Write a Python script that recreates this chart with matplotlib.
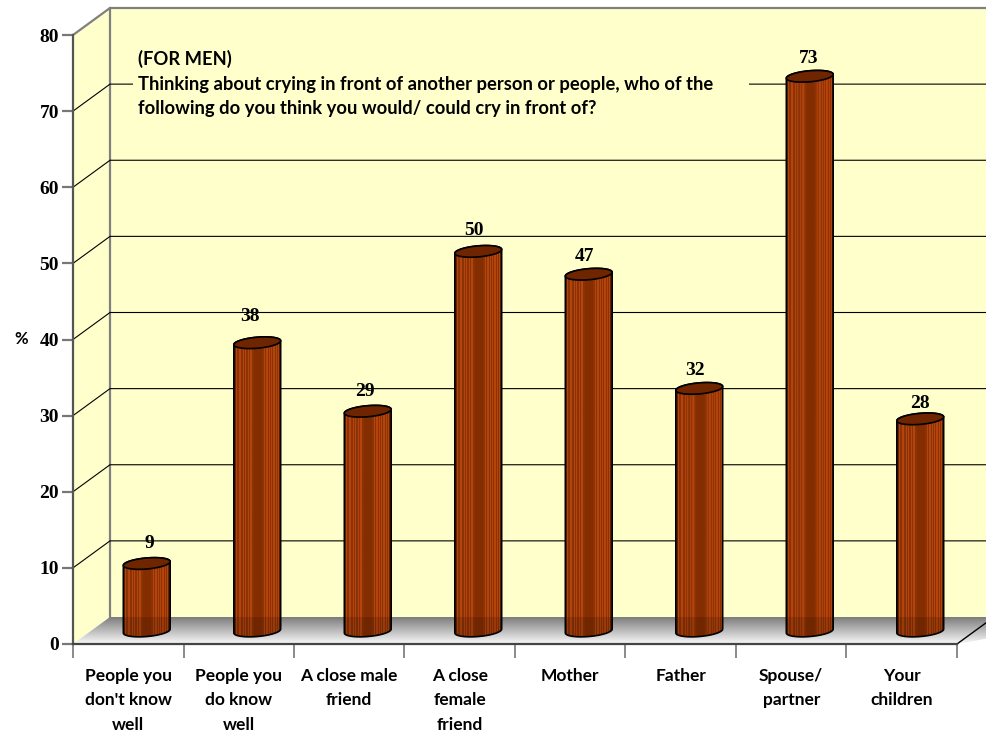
import matplotlib
matplotlib.use('Agg')
import matplotlib.pyplot as plt
from matplotlib.patches import Polygon
import numpy as np

# values
categories = ["People you\ndon't know\nwell", "People you\ndo know\nwell", "A close male\nfriend",
              "A close\nfemale\nfriend", "Mother", "Father", "Spouse/\npartner", "Your\nchildren"]
values = [9, 38, 29, 50, 47, 32, 73, 28]
y_ticks = [0, 10, 20, 30, 40, 50, 60, 70, 80]
title_text = ("(FOR MEN)\nThinking about crying in front of another person or people, who of the\n"
              "following do you think you would/ could cry in front of?")

# small shifts for the value labels, in pixels
label_nudge = [(3, 2), (-7, -4), (-3, 2), (-4, 1), (-4, 4), (-4, 4), (-1, 4), (0, 7)]

W, H = 987, 731
LABEL_FONT = 'Lato'
DIGIT_FONT = 'Liberation Serif'

fig = plt.figure(figsize=(W / 100, H / 100), dpi=100, facecolor='white')
left, right, top, bottom = 73, 957, 35, 644
ax = fig.add_axes([left / W, 1 - bottom / H, (right - left) / W, (bottom - top) / H])
ax.set_facecolor('none')

# pixels to data units
ux = 8 / (right - left)
uy = 80 / (bottom - top)
depth_x, depth_y = 37 * ux, 27 * uy
far = 8 + depth_x + 1


def poly(pts, **kw):
    p = Polygon(pts, closed=True, clip_on=False, **kw)
    ax.add_patch(p)
    return p


def image(arr, extent, clip, **kw):
    im = ax.imshow(arr, extent=extent, aspect='auto', clip_on=True, **kw)
    im.set_clip_box(fig.bbox)
    im.set_clip_path(clip)
    return im


# walls
wall = '#ffffcc'
poly([(depth_x, depth_y), (far, depth_y), (far, 80 + depth_y), (depth_x, 80 + depth_y)],
     fc=wall, ec='none', zorder=1)
poly([(0, 0), (depth_x, depth_y), (depth_x, 80 + depth_y), (0, 80)], fc=wall, ec='none', zorder=1)
ax.plot([0, depth_x, far], [80, 80 + depth_y, 80 + depth_y], color='#808080', lw=1.6, clip_on=False, zorder=2)
ax.plot([depth_x, depth_x], [depth_y, 80 + depth_y], color='#808080', lw=1.6, clip_on=False, zorder=2)

# gridlines, back wall and side wall
for v in y_ticks[1:-1]:
    ax.plot([0, depth_x, far], [v, v + depth_y, v + depth_y], color='black', lw=0.8, clip_on=False, zorder=2)

# floor
floor = poly([(0, 0), (depth_x, depth_y), (far, depth_y), (8, 0)], fc='none', ec='none', zorder=3)
grad = np.linspace(0.45, 0.97, 64) ** 0.9
grad = np.stack([grad, grad, grad], axis=1)[:, None, :]
image(grad, (0, far, 0, depth_y), floor, zorder=3)
ax.plot([8, far], [0, (far - 8) / depth_x * depth_y], color='black', lw=1.0, clip_on=False, zorder=4)

# cylinders
stripe_cols = [2, 5, 6, 9, 11, 14, 16, 17, 30, 32, 33, 35, 37, 39, 40, 42, 44]
shade = np.ones(47)
shade[stripe_cols] = 1.32
shade[:2] = 0.72
shade[-2:] = 0.72
base_col = np.array([0.54, 0.20, 0.03])
strip = np.clip(shade[:, None] * base_col, 0, 1)[None, :, :]
strip[0, 20:28] = [0.52, 0.18, 0.0]

half_w, half_h = 23.5, 5.5
tilt = np.deg2rad(5)


def ell(cx, cy, t):
    dx = half_w * np.cos(t) * np.cos(tilt) - half_h * np.sin(t) * np.sin(tilt)
    dy = half_w * np.cos(t) * np.sin(tilt) + half_h * np.sin(t) * np.cos(tilt)
    return cx + dx * ux, cy + dy * uy


base_y = depth_y / 2 - 0.5 * uy
for i, (val, lab) in enumerate(zip(values, label_nudge)):
    cx = i + 0.5 + depth_x / 2
    top_y = val + base_y - 1.0 * uy
    bx, by = ell(cx, base_y, np.linspace(np.pi, 2 * np.pi, 40))
    tx, ty = ell(cx, top_y, np.linspace(0, np.pi, 40))
    pts = np.vstack([np.c_[bx, by], np.c_[tx, ty]])
    body = poly(pts, fc='none', ec='none', zorder=5)
    image(strip, (cx - half_w * ux, cx + half_w * ux, base_y - 8 * uy, top_y + 8 * uy), body, zorder=5)
    # bar looks darker where the floor is behind it
    dark = poly([(cx - 30 * ux, base_y - 8 * uy), (cx + 30 * ux, base_y - 8 * uy),
                 (cx + 30 * ux, depth_y), (cx - 30 * ux, depth_y)], fc='black', alpha=0.14, ec='none', zorder=6)
    dark.set_clip_on(True)
    dark.set_clip_box(fig.bbox)
    dark.set_clip_path(body)
    poly(pts, fc='none', ec='black', lw=1.2, zorder=7)
    cx_all, cy_all = ell(cx, top_y, np.linspace(0, 2 * np.pi, 80))
    poly(np.c_[cx_all, cy_all], fc='#6e2500', ec='black', lw=1.2, zorder=8)
    ax.text(cx + lab[0] * ux, top_y + (22 - lab[1]) * uy, str(val), ha='center', va='center',
            fontsize=14, fontweight='bold', family=DIGIT_FONT, color='black', zorder=9)

# title box hides part of the 70 gridline
poly([(60 * ux, 522 * uy), (676 * ux, 522 * uy), (676 * ux, 599 * uy), (60 * ux, 599 * uy)],
     fc=wall, ec='none', zorder=3)
ax.text(65 * ux, 560.5 * uy, title_text, ha='left', va='center', fontsize=13.2, fontweight='bold',
        family=LABEL_FONT, linespacing=1.55, zorder=9)

# real axes
ax.set_xlim(0, 8)
ax.set_ylim(0, 80)
for s in ['top', 'right']:
    ax.spines[s].set_visible(False)
ax.spines['left'].set(color='#555555', lw=1.6, zorder=10)
ax.spines['bottom'].set(color='#444444', lw=1.6, zorder=10)
ax.set_yticks(y_ticks)
ax.set_yticklabels([str(v) for v in y_ticks], fontsize=14, fontweight='bold', family=DIGIT_FONT)
ax.tick_params(axis='y', length=8, width=1.6, color='#777777', pad=2)
ax.set_xticks(range(9))
ax.set_xticklabels([])
ax.tick_params(axis='x', which='major', length=10, width=1.2, color='#777777')
ax.set_xticks(np.arange(8) + 0.5, minor=True)
ax.set_xticklabels(categories, minor=True, fontsize=12.5, fontweight='bold', family=LABEL_FONT,
                   linespacing=1.65)
ax.tick_params(axis='x', which='minor', length=0, pad=17)
ax.text(-52 * ux, 40, '%', ha='center', va='center', fontsize=12, fontweight='bold', family=LABEL_FONT)

fig.savefig('out.png', dpi=100, facecolor='white')
